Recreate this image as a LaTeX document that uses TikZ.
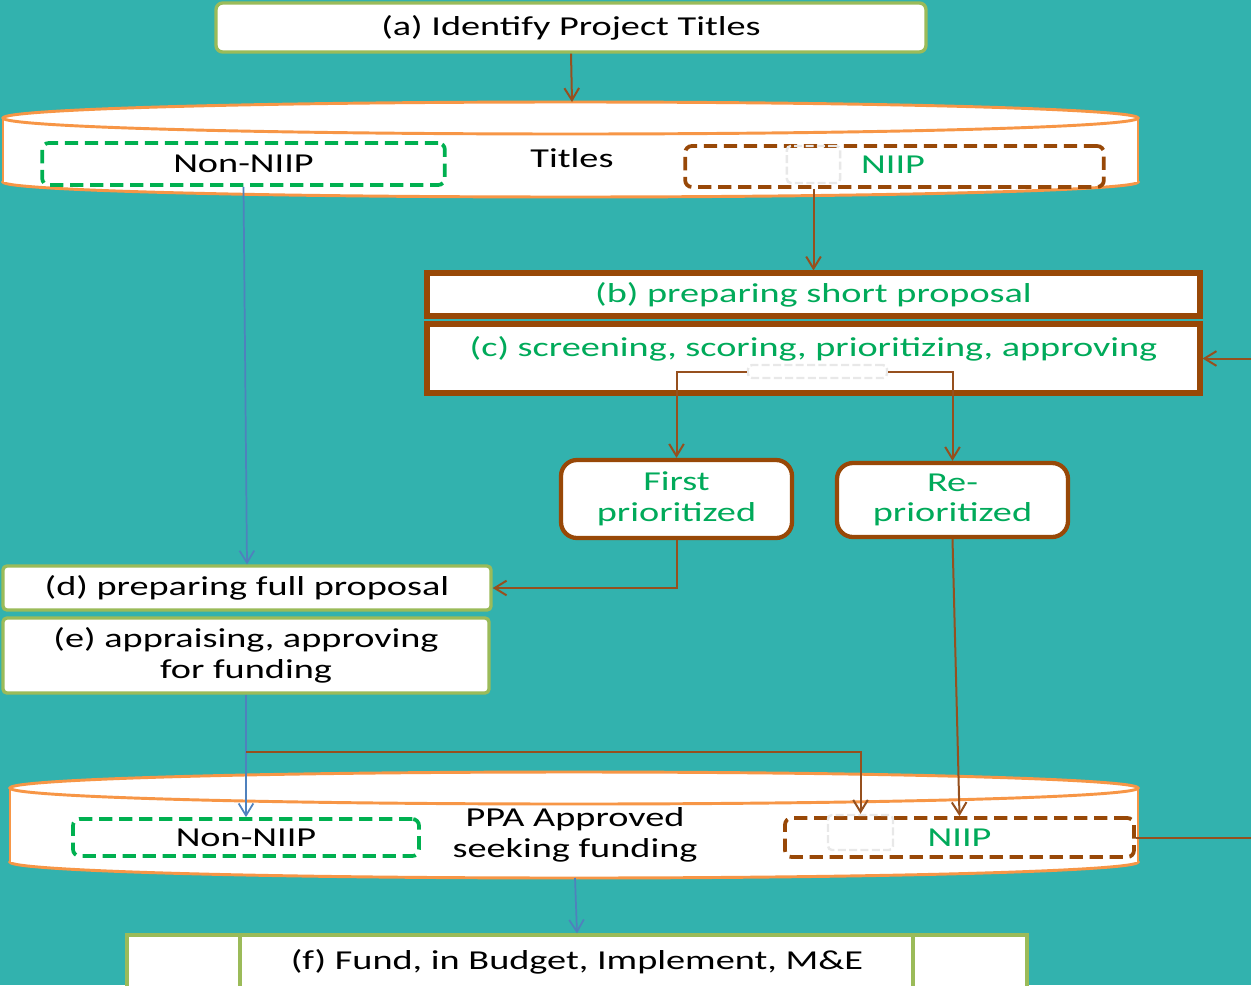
\documentclass[tikz,border=0pt]{standalone}
\usepackage{fontspec}
\setmainfont{Carlito}[FakeStretch=1.4]
\usetikzlibrary{arrows.meta,calc}
\definecolor{bgteal}{RGB}{50,178,174}
\definecolor{olivegreen}{RGB}{155,187,89}
\definecolor{cylorange}{RGB}{247,150,70}
\definecolor{boxbrown}{RGB}{152,72,7}
\definecolor{linebrown}{RGB}{150,80,30}
\definecolor{dashgreen}{RGB}{0,176,80}
\definecolor{txtgreen}{RGB}{0,170,90}
\definecolor{lineblue}{RGB}{79,129,189}
\definecolor{ghostgray}{RGB}{232,232,232}
\begin{document}
\begin{tikzpicture}[x=0.75pt,y=0.75pt,
 every node/.style={font=\fontsize{20.5}{23}\selectfont, align=center, inner sep=0pt},
 greenbox/.style={draw=olivegreen, line width=2.5pt, fill=white, rounded corners=3pt},
 brownbox/.style={draw=boxbrown, line width=3.8pt, fill=white, text=txtgreen},
 roundbrown/.style={draw=boxbrown, line width=3.2pt, fill=white, rounded corners=12pt, text=txtgreen},
 dashgreenbox/.style={draw=dashgreen, line width=2.8pt, dash pattern=on 10pt off 5pt, rounded corners=5pt},
 dashbrownbox/.style={draw=boxbrown, line width=2.8pt, dash pattern=on 10pt off 5pt, rounded corners=5pt, text=txtgreen},
 ghostbox/.style={draw=ghostgray, line width=1.8pt, dash pattern=on 6pt off 2.5pt, rounded corners=3pt},
 bluearrow/.style={draw=lineblue, line width=1.3pt, -{Straight Barb[length=9pt,width=11pt]}},
 brownarrow/.style={draw=linebrown, line width=1.5pt, -{Straight Barb[length=9pt,width=11pt]}},
 cylline/.style={draw=cylorange, line width=2.2pt},
]
\useasboundingbox[fill=bgteal] (0,0) rectangle (1251,-985);

% (a)
\node[greenbox, rounded corners=5pt, minimum width=532.5pt, minimum height=36.75pt] (a) at (571,-27.5) {(a) Identify Project Titles};

% cylinder 1
\filldraw[fill=white,cylline] (570.5,-182) ellipse (425.6pt and 11.25pt);
\fill[white] (3,-118) rectangle (1138,-182);
\draw[cylline] (3,-118) -- (3,-182) (1138,-118) -- (1138,-182);
\filldraw[fill=white,cylline] (570.5,-118) ellipse (425.6pt and 12pt);
\coordinate (cyl1top) at (572,-102);
\node (titles) at (572,-158) {Titles};
\node[dashgreenbox, minimum width=302pt, minimum height=31.5pt] (non1) at (243.5,-164) {Non-NIIP};
\node[dashbrownbox, minimum width=314pt, minimum height=30.75pt] (niip1) at (894.5,-166.5) {};
\node[ghostbox, minimum width=40pt, minimum height=27.75pt] (ghost1) at (813.5,-164.5) {};
\node[text=txtgreen] (niip1t) at (893,-165) {NIIP};

% (b), (c)
\node[brownbox, minimum width=579.75pt, minimum height=32.25pt] (b) at (813.5,-294.5) {(b) preparing short proposal};
\node[brownbox, minimum width=579.75pt, minimum height=51.75pt] (c) at (813.5,-358.5) {};
\node[text=txtgreen] (ctext) at (813.5,-349) {(c) screening, scoring, prioritizing, approving};
\node[ghostbox, minimum width=104.25pt, minimum height=9.75pt] (ghost2) at (817.5,-371.5) {};

% prioritized
\node[roundbrown, minimum width=173.25pt, minimum height=58.5pt] (first) at (676.5,-499) {First\\prioritized};
\node[roundbrown, minimum width=173.25pt, minimum height=55.5pt] (repr) at (952.5,-500) {Re-\\prioritized};

% (d), (e)
\node[greenbox, minimum width=366pt, minimum height=33pt] (d) at (247,-588) {(d) preparing full proposal};
\node[greenbox, minimum width=364.5pt, minimum height=56.25pt] (e) at (246,-655.5) {(e) appraising, approving\\for funding};

% cylinder 2
\filldraw[fill=white,cylline] (574,-862) ellipse (423pt and 12pt);
\fill[white] (10,-788) rectangle (1138,-862);
\draw[cylline] (10,-788) -- (10,-862) (1138,-788) -- (1138,-862);
\filldraw[fill=white,cylline] (574,-788) ellipse (423pt and 12pt);
\coordinate (cyl2bot) at (575,-878);
\node (ppa) at (575,-835) {PPA Approved\\seeking funding};
\node[dashgreenbox, minimum width=259.5pt, minimum height=27.75pt] (non2) at (246,-837.5) {Non-NIIP};
\node[dashbrownbox, minimum width=261.75pt, minimum height=29.25pt] (niip2) at (959.5,-837.5) {NIIP};
\node[ghostbox, minimum width=48.75pt, minimum height=26.25pt] (ghost3) at (860.5,-832.5) {};

% (f)
\node[greenbox, rounded corners=0pt, minimum width=675pt, minimum height=56.25pt] (f) at (577,-972.5) {};
\draw[olivegreen, line width=2.5pt] (240,-935) -- (240,-1010) (913,-935) -- (913,-1010);
\node (ftext) at (577,-962) {(f) Fund, in Budget, Implement, M\&E};

% connectors
\draw[brownarrow] (a.south) -- (cyl1top);
\draw[bluearrow] (non1.south) -- (d.north);
\draw[brownarrow] (b.north |- niip1.south) -- (b.north);
\draw[brownarrow] (ghost2.west) -| (first.north);
\draw[brownarrow] (ghost2.east) -| (repr.north);
\draw[brownarrow] (first.south) |- (d.east);
\draw[brownarrow] (repr.south) -- (niip2.north);
\draw[bluearrow] (e.south) -- (non2.north);
\coordinate (br) at (e.south |- 0,-752);
\draw[brownarrow] (br) -| (ghost3.north);
\draw[bluearrow] (cyl2bot) -- (f.north);
\coordinate (loopA) at (1265,-837.5);
\coordinate (loopB) at (1265,-358.5);
\draw[brownarrow] (niip2.east) -- (loopA) -- (loopB) -- (c.east);
\end{tikzpicture}
\end{document}
